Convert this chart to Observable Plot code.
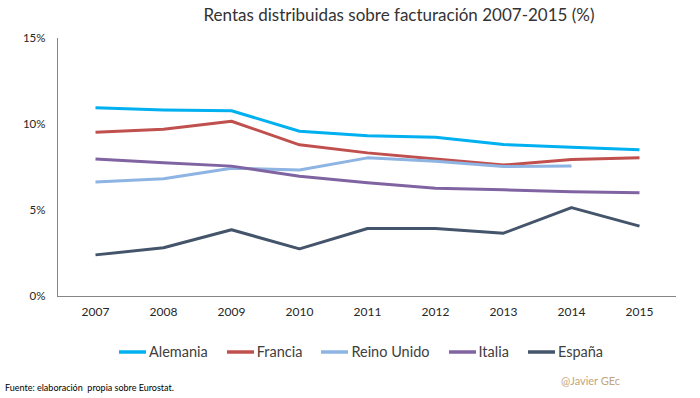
<!DOCTYPE html>
<html>
<head>
<meta charset="utf-8">
<script src="https://cdn.jsdelivr.net/npm/d3@7"></script>
<script src="https://cdn.jsdelivr.net/npm/@observablehq/plot@0.6"></script>
<style>
  body { margin: 0; width: 700px; height: 398px; position: relative; background: #fff; font-family: Lato, "Open Sans", sans-serif; overflow: hidden; }
  #title { position: absolute; top: 4px; left: 98px; width: 602px; text-align: center; font-size: 17px; color: #333; }
  #chart { position: absolute; top: 30px; left: 0; }
  #legend { position: absolute; top: 343px; left: 0; width: 700px; padding-left: 22px; box-sizing: border-box; display: flex; justify-content: center; gap: 19px; font-size: 14.5px; color: #404040; }
  #legend .item { display: flex; align-items: center; gap: 3px; }
  #source { position: absolute; left: 5px; top: 382px; font-size: 9px; color: #000; }
  #credit { position: absolute; left: 561px; top: 374px; font-size: 11px; color: #c4a57a; }
</style>
</head>
<body>
<div id="title">Rentas distribuidas sobre facturación 2007-2015 (%)</div>
<div id="chart"></div>
<div id="legend"></div>
<div id="source">Fuente: elaboración&nbsp; propia sobre Eurostat.</div>
<div id="credit">@Javier GEc</div>
<script>
const years = ["2007","2008","2009","2010","2011","2012","2013","2014","2015"];
const countries = ["Alemania","Francia","Reino Unido","Italia","España"];
const colors = ["#00b0f0","#c0504d","#8db4e2","#8064a2","#44546a"];
const alemania = [10.97, 10.85, 10.80, 9.61, 9.35, 9.26, 8.84, 8.68, 8.53];
const francia = [9.55, 9.73, 10.19, 8.82, 8.35, 8.00, 7.64, 7.97, 8.06];
const reinoUnido = [6.65, 6.84, 7.46, 7.36, 8.06, 7.87, 7.56, 7.58, null];
const italia = [8.00, 7.77, 7.58, 6.99, 6.62, 6.30, 6.20, 6.09, 6.03];
const espana = [2.42, 2.83, 3.88, 2.77, 3.95, 3.95, 3.68, 5.17, 4.09];
const yTicks = [0, 5, 10, 15];

const series = [alemania, francia, reinoUnido, italia, espana];
const data = [];
countries.forEach((c, i) => years.forEach((y, j) => {
  if (series[i][j] != null) data.push({country: c, year: y, value: series[i][j]});
}));

const chart = Plot.plot({
  width: 700,
  height: 296,
  marginTop: 8,
  marginBottom: 30,
  marginLeft: 57,
  marginRight: 24,
  style: {fontFamily: "Lato, sans-serif", fontSize: "12px", color: "#262626"},
  x: {type: "point", domain: years, padding: 0.5, label: null},
  y: {domain: [0, 15], ticks: yTicks, label: null},
  color: {domain: countries, range: colors},
  marks: [
    Plot.axisY({ticks: yTicks, tickSize: 0, tickPadding: 12, tickFormat: d => d + "%", fontSize: 11.5, label: null}),
    Plot.axisX({tickSize: 0, tickPadding: 11, fontSize: 12, label: null}),
    Plot.frame({anchor: "left", stroke: "#868686"}),
    Plot.ruleY([0], {stroke: "#868686"}),
    Plot.line(data, {x: "year", y: "value", z: "country", stroke: "country", strokeWidth: 3, strokeLinejoin: "round", strokeLinecap: "butt"})
  ]
});
document.getElementById("chart").appendChild(chart);

const legend = document.getElementById("legend");
countries.forEach((c, i) => {
  const item = document.createElement("div");
  item.className = "item";
  item.innerHTML = `<svg width="27" height="4"><line x1="0" y1="2" x2="27" y2="2" stroke="${colors[i]}" stroke-width="3.5"/></svg><span>${c}</span>`;
  legend.appendChild(item);
});
</script>
</body>
</html>
